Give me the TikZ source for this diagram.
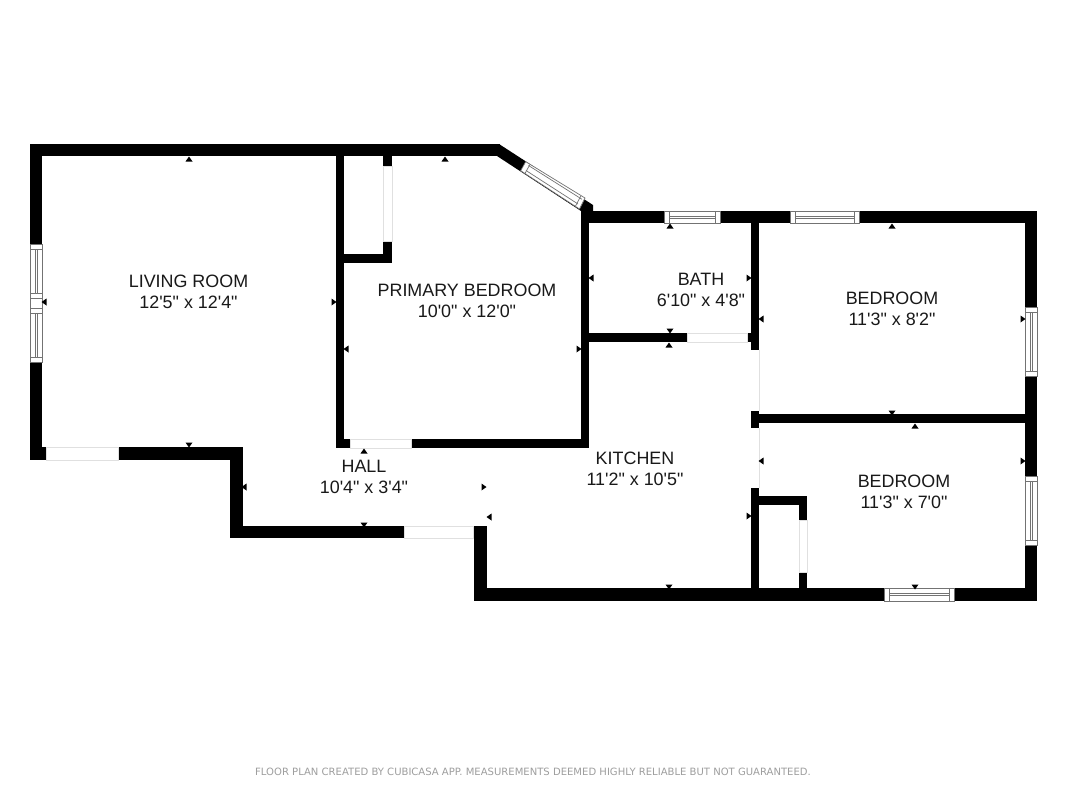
\documentclass[tikz,border=0pt]{standalone}
\usepackage{fontspec}
\setmainfont{Liberation Sans}[Ligatures=TeXOff]
\newfontfamily\creditfont{DejaVu Sans}

\newcommand{\doorway}[4]{\draw[doorline] (#1,#2) rectangle (#3,#4);}
\newcommand{\winhoriz}[4]{
  \draw[winline] (#1,#3) rectangle (#2,#4);
  \draw[winline] (#1+5,#3) -- (#1+5,#4) (#2-5,#3) -- (#2-5,#4);
  \draw[winline] (#1+5,#3+5) -- (#2-5,#3+5) (#1+5,#3+7) -- (#2-5,#3+7);
}
\newcommand{\winvert}[4]{
  \draw[winline] (#1,#3) rectangle (#2,#4);
  \draw[winline] (#1,#3+5) -- (#2,#3+5) (#1,#4-5) -- (#2,#4-5);
  \draw[winline] (#1+5,#3+5) -- (#1+5,#4-5) (#1+7,#3+5) -- (#1+7,#4-5);
}
\newcommand{\tickmark}[3]{\fill[black, shift={(#1,#2)}, rotate=#3] (-3.5,2.5) -- (0,-2.5) -- (3.5,2.5) -- cycle;}

\begin{document}
\begin{tikzpicture}[x=1pt, y=-1pt]
  \tikzset{
    wall/.style={fill=black},
    doorline/.style={draw=black!12, fill=white, line width=0.6pt},
    winline/.style={draw=black!55, fill=white, line width=0.7pt},
    roomlabel/.style={align=center, font=\fontsize{17.9}{21.3}\selectfont, text=black!90, inner sep=0pt},
    footnote/.style={font=\creditfont\fontsize{10.05}{12}\selectfont, text=black!38, inner sep=0pt}
  }
  \fill[white] (0,0) rectangle (1067,800);
  \useasboundingbox (0,0) rectangle (1067,800);

  % walls
  \foreach \xa/\ya/\xb/\yb in {
      30/144/500/156, 30/144/42/460, 30/447/46/460, 118/447/243/460,
      230/447/243/538, 230/526/404/538, 474/526/487/601, 474/588/1037/601,
      336/144/344/448, 344/254/392/263, 383/156/392/166, 383/241/392/263,
      336/439/350/448, 411/439/589/448, 581/205/589/448,
      581/211/1037/223, 1025/211/1037/601,
      589/333/687/342, 747/333/759/342, 751/211/759/350,
      751/411/759/428, 751/414/1037/423,
      751/488/759/601, 751/496/807/505, 799/496/807/520, 799/572/807/601}
    {\fill[wall] (\xa,\ya) rectangle (\xb,\yb);}
  \fill[wall] (499,144) -- (593,205) -- (593,211) -- (581,211) -- (497,156) -- cycle;

  % door openings
  \doorway{46}{447}{118}{460}
  \doorway{404}{526}{473}{538}
  \doorway{350}{439}{411}{448}
  \doorway{383}{166}{392}{241}
  \doorway{687}{333}{747}{342}
  \doorway{799}{520}{807}{572}
  \draw[doorline] (759,350) -- (759,411) (759,428) -- (759,488);

  % windows
  \winhoriz{664}{720}{211}{223}
  \winhoriz{790}{859}{211}{223}
  \winhoriz{884}{954}{588}{601}
  \winvert{1025}{1037}{307}{376}
  \winvert{1025}{1037}{476}{545}
  \winvert{30}{42}{244}{298}
  \winvert{30}{42}{308}{362}
  \draw[winline] (30,298) rectangle (42,308);
  \draw[winline] (525.7,161.7) -- (585,198) -- (579.5,209) -- (520.7,170.7) -- cycle;
  \draw[winline] (528.5,165.5) -- (582,199.3) (526,170.5) -- (578,204);
  \draw[winline] (530,164.4) -- (525,173.4) (581,195.7) -- (575.5,206);

  % rooms
  \node[roomlabel] (living) at (188.5,292) {LIVING ROOM\\12'5" x 12'4"};
  \node[roomlabel] (primary) at (467,300.5) {PRIMARY BEDROOM\\10'0" x 12'0"};
  \node[roomlabel] (bath) at (701,290) {BATH\\6'10" x 4'8"};
  \node[roomlabel] (bedroomtop) at (892,309) {BEDROOM\\11'3" x 8'2"};
  \node[roomlabel] (bedroomlow) at (904,492) {BEDROOM\\11'3" x 7'0"};
  \node[roomlabel] (kitchen) at (635,469) {KITCHEN\\11'2" x 10'5"};
  \node[roomlabel] (hall) at (364,477) {HALL\\10'4" x 3'4"};

  % measuring ticks
  \foreach \tx/\ty/\tr in {
      189/159/0, 445/159/0, 670/226/0, 669/345/0, 892/226/0, 915/426/0, 364/451/0,
      189/445/180, 364/525/180, 670/331/180, 892/413/180, 915/587/180, 669/587/180,
      44/302/90, 346/349/90, 591/278/90, 761/319/90, 761/461/90, 244/487/90, 489/517/90,
      334/302/-90, 579/349/-90, 749/278/-90, 1023/319/-90, 1023/461/-90, 749/516/-90, 484/487/-90}
    {\tickmark{\tx}{\ty}{\tr}}

  \node[footnote] (credit) at (533,772) {FLOOR PLAN CREATED BY CUBICASA APP. MEASUREMENTS DEEMED HIGHLY RELIABLE BUT NOT GUARANTEED.};
\end{tikzpicture}
\end{document}
